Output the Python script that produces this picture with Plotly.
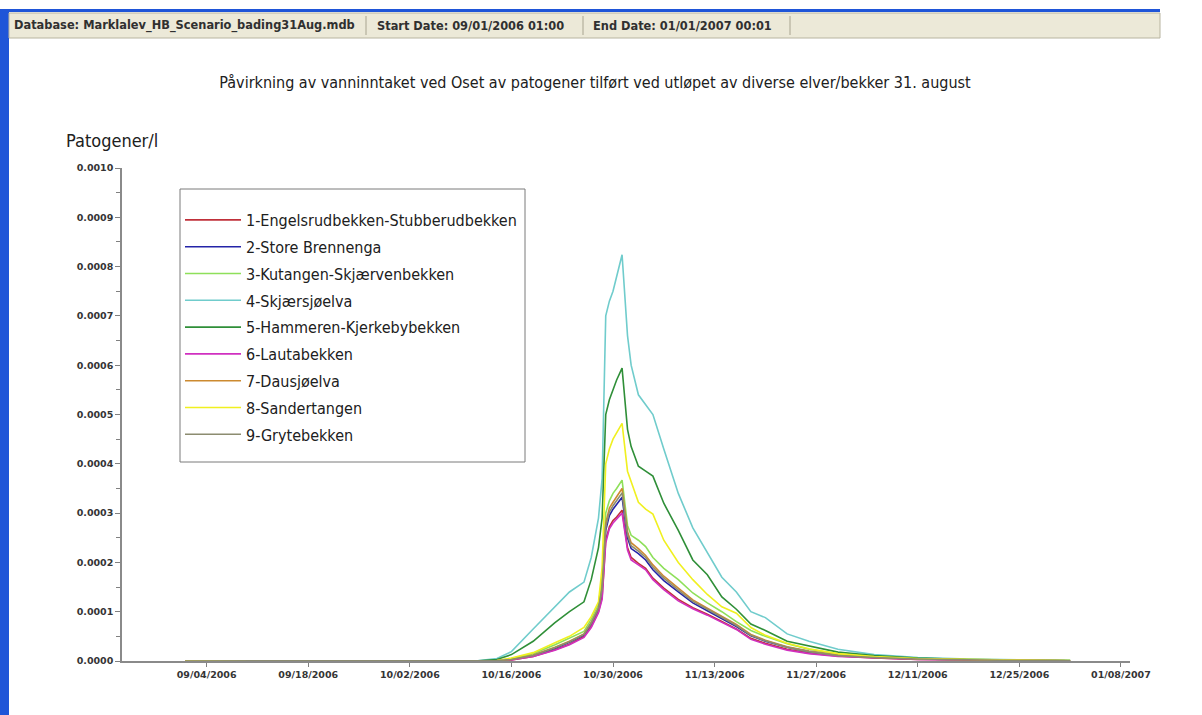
import plotly.graph_objects as go

# ---------------- data ----------------
times = [
    "2006-09-01 01:00", "2006-10-11 00:00", "2006-10-14 00:00", "2006-10-16 00:00",
    "2006-10-19 00:00", "2006-10-22 00:00", "2006-10-24 00:00", "2006-10-26 00:00",
    "2006-10-27 00:00", "2006-10-28 00:00", "2006-10-28 12:00", "2006-10-29 00:00",
    "2006-10-29 12:00", "2006-10-30 00:00", "2006-10-30 12:00", "2006-10-31 06:00",
    "2006-11-01 00:00", "2006-11-01 12:00", "2006-11-02 12:00", "2006-11-03 12:00",
    "2006-11-04 12:00", "2006-11-06 00:00", "2006-11-08 00:00", "2006-11-10 00:00",
    "2006-11-12 00:00", "2006-11-14 00:00", "2006-11-16 00:00", "2006-11-18 00:00",
    "2006-11-20 00:00", "2006-11-23 00:00", "2006-11-26 00:00", "2006-11-30 00:00",
    "2006-12-05 00:00", "2006-12-11 00:00", "2006-12-18 00:00", "2006-12-25 00:00",
    "2007-01-01 00:01",
]

# values in micro-pathogens per litre (1e-6 /l)
s1_engelsrud = [0, 0, 0, 2, 9, 23, 34, 50, 70, 100, 130, 245, 272, 285, 292, 306, 230, 210, 198, 188,
                168, 148, 125, 108, 95, 80, 65, 46, 36, 24, 16, 10, 6, 3, 2, 1, 0.5]
s2_store_brennenga = [0, 0, 1, 3, 11, 26, 38, 53, 76, 106, 145, 265, 295, 308, 318, 332, 250, 228, 218, 205,
                      185, 163, 140, 118, 102, 86, 70, 51, 40, 28, 19, 11, 7, 4, 2, 1, 0.5]
s3_kutangen = [0, 0, 1, 5, 15, 33, 46, 60, 85, 115, 170, 300, 325, 340, 350, 367, 275, 255, 245, 232,
               210, 188, 165, 138, 118, 100, 80, 62, 50, 35, 24, 14, 8, 4, 2, 1, 1]
s4_skjaersjoelva = [0, 0, 5, 19, 65, 110, 140, 160, 210, 290, 370, 700, 730, 750, 780, 824, 660, 600, 540, 520,
                    500, 430, 340, 270, 220, 170, 140, 100, 88, 55, 40, 24, 13, 7, 4, 2, 1]
s5_hammeren = [0, 0, 3, 13, 40, 78, 100, 120, 165, 230, 290, 500, 530, 550, 570, 594, 470, 435, 395, 385,
               375, 320, 265, 205, 175, 130, 105, 75, 62, 40, 30, 18, 11, 6, 3, 2, 1]
s6_lautabekken = [0, 0, 0, 2, 9, 22, 33, 48, 68, 98, 125, 240, 268, 280, 288, 300, 225, 205, 195, 185,
                  165, 145, 122, 106, 93, 78, 64, 44, 34, 22, 15, 9, 6, 3, 2, 1, 0.5]
s7_dausjoelva = [0, 0, 1, 3, 12, 28, 40, 55, 78, 108, 150, 280, 310, 322, 334, 350, 262, 240, 228, 214,
                 195, 172, 148, 124, 107, 90, 74, 54, 42, 29, 20, 12, 7, 4, 2, 1, 0.5]
s8_sandertangen = [0, 0, 1, 6, 17, 37, 50, 68, 90, 120, 190, 400, 430, 450, 462, 482, 385, 365, 322, 308,
                   298, 245, 200, 165, 135, 110, 97, 68, 52, 36, 25, 15, 9, 5, 3, 2, 1]
s9_grytebekken = [0, 0, 1, 3, 11, 27, 39, 54, 77, 107, 148, 272, 302, 315, 326, 341, 256, 234, 223, 210,
                  190, 168, 144, 121, 105, 88, 72, 52, 41, 28, 19, 11, 7, 4, 2, 1, 0.5]

series_names = [
    "1-Engelsrudbekken-Stubberudbekken", "2-Store Brennenga", "3-Kutangen-Skjærvenbekken",
    "4-Skjærsjøelva", "5-Hammeren-Kjerkebybekken", "6-Lautabekken", "7-Dausjøelva",
    "8-Sandertangen", "9-Grytebekken",
]
series_values = [s1_engelsrud, s2_store_brennenga, s3_kutangen, s4_skjaersjoelva, s5_hammeren,
                 s6_lautabekken, s7_dausjoelva, s8_sandertangen, s9_grytebekken]
series_colors = ["#c0303a", "#2424a8", "#8ee05a", "#70cccc", "#2f8f38",
                 "#d030c0", "#cc8a30", "#f0f020", "#8c8c70"]

xtick_vals = ["2006-09-04", "2006-09-18", "2006-10-02", "2006-10-16", "2006-10-30",
              "2006-11-13", "2006-11-27", "2006-12-11", "2006-12-25", "2007-01-08"]

title_text = ("Påvirkning av vanninntaket ved Oset av patogener tilført ved utløpet av "
              "diverse elver/bekker 31. august")
header_texts = ["Database: Marklalev_HB_Scenario_bading31Aug.mdb",
                "Start Date: 09/01/2006 01:00",
                "End Date: 01/01/2007 00:01"]

# ---------------- layout helpers ----------------
W, H = 1202, 715
L, R, T, B = 122, 1130, 168, 661


def PX(x):
    return (x - L) / (R - L)


def PY(y):
    return (B - y) / (B - T)


NARROW = "Liberation Sans Narrow, DejaVu Sans Condensed, Arial Narrow, Liberation Sans, sans-serif"
SMALL = "DejaVu Sans, Verdana, sans-serif"

fig = go.Figure()
for i, (name, vals, col) in enumerate(zip(series_names, series_values, series_colors)):
    fig.add_trace(go.Scatter(
        x=times, y=[v * 1e-6 for v in vals], mode="lines", name=name,
        line=dict(color=col, width=1.6), legendgroup=str(i),
    ))

shapes = [
    # legend frame
    dict(type="rect", xref="paper", yref="paper", x0=PX(180), x1=PX(525), y0=PY(462), y1=PY(189),
         fillcolor="white", line=dict(color="#7a7a7a", width=1), layer="above"),
    # window chrome
    dict(type="rect", xref="paper", yref="paper", x0=PX(0), x1=PX(9), y0=PY(715), y1=PY(9),
         fillcolor="#1f55d8", line=dict(width=0), layer="above"),
    dict(type="rect", xref="paper", yref="paper", x0=PX(0), x1=PX(1160), y0=PY(12), y1=PY(9),
         fillcolor="#1f55d8", line=dict(width=0), layer="above"),
    dict(type="rect", xref="paper", yref="paper", x0=PX(9), x1=PX(1160), y0=PY(38), y1=PY(13),
         fillcolor="#ece9d8", line=dict(color="#b8b4a0", width=1), layer="above"),
]
for sx in [366, 583, 790]:
    shapes.append(dict(type="line", xref="paper", yref="paper", x0=PX(sx), x1=PX(sx),
                       y0=PY(35), y1=PY(16), line=dict(color="#a8a490", width=1)))

annotations = []
for txt, hx in zip(header_texts, [12, 375, 591]):
    annotations.append(dict(text=txt, xref="paper", yref="paper", x=PX(hx), y=PY(26),
                            xanchor="left", yanchor="middle", showarrow=False,
                            font=dict(family=SMALL, size=11.4, color="#303030", weight="bold")))
annotations.append(dict(text="Patogener/l", xref="paper", yref="paper", x=PX(64), y=PY(140),
                        xanchor="left", yanchor="middle", showarrow=False,
                        font=dict(family=NARROW, size=18, color="#202020")))

fig.update_layout(
    width=W, height=H,
    margin=dict(l=L, r=W - R, t=T, b=H - B),
    paper_bgcolor="white", plot_bgcolor="white",
    title=dict(text=title_text, x=595 / W, xanchor="center", y=1 - 82 / H, yanchor="middle",
               font=dict(family=NARROW, size=16, color="#202020")),
    showlegend=True,
    legend=dict(x=PX(180), y=PY(203), xanchor="left", yanchor="top",
                borderwidth=0, bgcolor="rgba(0,0,0,0)",
                font=dict(family=NARROW, size=16, color="#202020"),
                tracegroupgap=3, itemwidth=56),
    xaxis=dict(type="date", range=["2006-08-23 08:00", "2007-01-09 06:00"],
               tickmode="array", tickvals=xtick_vals, tickformat="%m/%d/%Y",
               ticks="outside", ticklen=4, tickcolor="#808080",
               showline=True, linecolor="#8a8a8a", linewidth=1.5,
               showgrid=False, zeroline=False, layer="below traces",
               tickfont=dict(family=SMALL, size=9.5, color="#353535", weight="bold")),
    yaxis=dict(range=[0, 0.001], dtick=0.0001, tickformat=".4f",
               ticks="outside", ticklen=5, tickcolor="#808080",
               minor=dict(dtick=0.00005, ticks="outside", ticklen=4, tickcolor="#808080"),
               showline=True, linecolor="#8a8a8a", linewidth=1.5,
               showgrid=False, zeroline=False, layer="below traces",
               tickfont=dict(family=SMALL, size=9.5, color="#353535", weight="bold")),
    shapes=shapes, annotations=annotations,
)

fig.write_html("out.html", config={"displayModeBar": False},
               post_script="document.body.style.margin='0';document.body.style.overflow='hidden';")
